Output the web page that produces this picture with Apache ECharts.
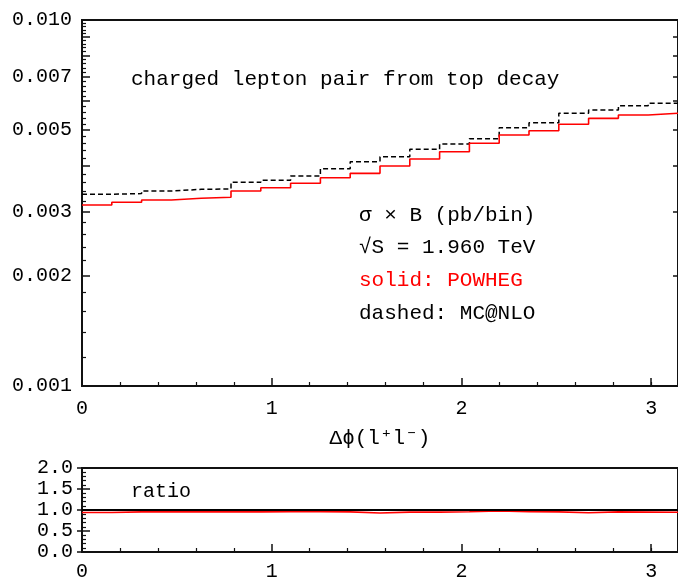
<!DOCTYPE html>
<html><head><meta charset="utf-8">
<script src="https://cdn.jsdelivr.net/npm/echarts@6/dist/echarts.min.js"></script>
<style>html,body{margin:0;padding:0;background:#fff}#c{width:678px;height:582px}</style>
</head><body><div id="c"></div>
<script>
// bin edges in delta-phi (20 bins from 0 to pi)
const binEdges = [0, 0.15708, 0.31416, 0.47124, 0.62832, 0.78540, 0.94248, 1.09956, 1.25664, 1.41372,
  1.57080, 1.72788, 1.88496, 2.04204, 2.19911, 2.35619, 2.51327, 2.67035, 2.82743, 2.98451, 3.14159];
// sigma x B (pb/bin)
const powheg = [0.003123, 0.003176, 0.003223, 0.003257, 0.003278, 0.003410, 0.003481, 0.003579, 0.003707, 0.003811,
  0.003991, 0.004172, 0.004367, 0.004604, 0.004851, 0.004984, 0.005188, 0.005387, 0.005500, 0.005560];
const mcatnlo = [0.003341, 0.003355, 0.003410, 0.003446, 0.003454, 0.003602, 0.003648, 0.003748, 0.003924, 0.004102,
  0.004233, 0.004433, 0.004584, 0.004740, 0.005079, 0.005241, 0.005560, 0.005677, 0.005833, 0.005922];
// ratio panel (POWHEG / MC@NLO)
const ratioValues = [0.94, 0.955, 0.955, 0.955, 0.955, 0.955, 0.96, 0.96, 0.955, 0.93,
  0.95, 0.95, 0.96, 0.975, 0.96, 0.955, 0.935, 0.955, 0.95, 0.945];
const ratioReference = 1.0;

const xMajorTicks = [0, 1, 2, 3];
const xMinorTicks = [0.2, 0.4, 0.6, 0.8, 1.2, 1.4, 1.6, 1.8, 2.2, 2.4, 2.6, 2.8, 3.0];
const yLabelValues = [0.001, 0.002, 0.003, 0.005, 0.007, 0.010];
const yMajorTicks = [0.001, 0.002, 0.003, 0.004, 0.005, 0.006, 0.007, 0.008, 0.009, 0.010];
const yMinorTicks = [];
for (let k = 6; k < 50; k++) { if (k % 5 !== 0) yMinorTicks.push(+(k * 0.0002).toFixed(4)); }
const ratioTicks = [0.0, 0.5, 1.0, 1.5, 2.0];

const MONO = '"Liberation Mono", "DejaVu Sans Mono", monospace';
const FRAME = '#111';

function stepData(vals) {
  return binEdges.map((x, i) => [x, vals[Math.min(i, vals.length - 1)]]);
}

const GL = 82, GW = 598;

function xAxesFor(gridIndex, labelMargin) {
  return [
    { gridIndex, type: 'value', position: 'bottom', min: 0, max: 3.14159,
      axisLine: { show: false }, splitLine: { show: false },
      axisTick: { show: true, inside: true, length: 8, customValues: xMajorTicks, lineStyle: { color: FRAME, width: 1.5 } },
      axisLabel: { show: true, customValues: xMajorTicks, margin: labelMargin, fontSize: 20, fontFamily: MONO, color: '#000' } },
    { gridIndex, type: 'value', position: 'bottom', min: 0, max: 3.14159,
      axisLine: { show: false }, splitLine: { show: false },
      axisTick: { show: true, inside: true, length: 4, customValues: xMinorTicks, lineStyle: { color: FRAME, width: 1.2 } },
      axisLabel: { show: false } }
  ];
}

const option = {
  animation: false,
  backgroundColor: '#fff',
  grid: [
    { left: GL, top: 20, width: GW, height: 366, show: true, borderColor: FRAME, borderWidth: 2, backgroundColor: 'transparent' },
    { left: GL, top: 468, width: GW, height: 86, show: true, borderColor: FRAME, borderWidth: 2, backgroundColor: 'transparent' }
  ],
  xAxis: [].concat(xAxesFor(0, 13), xAxesFor(1, 10)).map((a, i) => {
    if (i === 0) { a.name = 'Δϕ(l⁺l⁻)'; a.nameLocation = 'middle'; a.nameGap = 42;
      a.nameTextStyle = { fontSize: 21, fontFamily: MONO, color: '#000' }; }
    return a;
  }),
  yAxis: [
    { gridIndex: 0, type: 'log', logBase: 10, position: 'left', min: 0.001, max: 0.01,
      axisLine: { show: false }, splitLine: { show: false },
      axisTick: { show: true, inside: true, length: 8, customValues: yMajorTicks, lineStyle: { color: FRAME, width: 1.5 } },
      axisLabel: { show: true, customValues: yLabelValues, margin: 10, fontSize: 20, fontFamily: MONO, color: '#000',
        formatter: v => Number(v).toFixed(3) } },
    { gridIndex: 0, type: 'log', logBase: 10, position: 'left', min: 0.001, max: 0.01,
      axisLine: { show: false }, splitLine: { show: false },
      axisTick: { show: true, inside: true, length: 4, customValues: yMinorTicks, lineStyle: { color: FRAME, width: 1.2 } },
      axisLabel: { show: false } },
    { gridIndex: 0, type: 'log', logBase: 10, position: 'right', min: 0.001, max: 0.01,
      axisLine: { show: false }, splitLine: { show: false },
      axisTick: { show: true, inside: true, length: 5, customValues: yMajorTicks, lineStyle: { color: FRAME, width: 1.5 } },
      axisLabel: { show: false } },
    { gridIndex: 1, type: 'value', position: 'left', min: 0, max: 2, interval: 0.5,
      axisLine: { show: false }, splitLine: { show: false },
      axisTick: { show: true, inside: true, length: 8, lineStyle: { color: FRAME, width: 1.5 } },
      minorTick: { show: true, splitNumber: 5, length: 4, lineStyle: { color: FRAME, width: 1.2 } },
      minorSplitLine: { show: false },
      axisLabel: { show: true, customValues: ratioTicks, margin: 9, fontSize: 20, fontFamily: MONO, color: '#000',
        formatter: v => Number(v).toFixed(1) } },
    { gridIndex: 1, type: 'value', position: 'right', min: 0, max: 2, interval: 0.5,
      axisLine: { show: false }, splitLine: { show: false },
      axisTick: { show: true, inside: true, length: 5, lineStyle: { color: FRAME, width: 1.5 } },
      axisLabel: { show: false } }
  ],
  series: [
    { name: 'MC@NLO', type: 'line', xAxisIndex: 0, yAxisIndex: 0, step: 'end', showSymbol: false,
      data: stepData(mcatnlo), lineStyle: { color: '#000', width: 1.5, type: [5, 3] }, z: 3 },
    { name: 'POWHEG', type: 'line', xAxisIndex: 0, yAxisIndex: 0, step: 'end', showSymbol: false,
      data: stepData(powheg), lineStyle: { color: '#ff0000', width: 1.6 }, z: 4 },
    { name: 'ratio', type: 'line', xAxisIndex: 2, yAxisIndex: 3, step: 'end', showSymbol: false,
      data: stepData(ratioValues), lineStyle: { color: '#ff0000', width: 1.6 }, z: 4,
      markLine: { silent: true, symbol: 'none', label: { show: false },
        lineStyle: { color: '#000', width: 2, type: 'solid' }, data: [{ yAxis: ratioReference }] } }
  ],
  graphic: [
    { type: 'text', x: 131, y: 79, style: { text: 'charged lepton pair from top decay', font: '21px ' + MONO, fill: '#000', verticalAlign: 'middle' } },
    { type: 'text', x: 359, y: 215, style: { text: 'σ × B (pb/bin)', font: '21px ' + MONO, fill: '#000', verticalAlign: 'middle' } },
    { type: 'text', x: 359, y: 247, style: { text: '√S = 1.960 TeV', font: '21px ' + MONO, fill: '#000', verticalAlign: 'middle' } },
    { type: 'text', x: 359, y: 280, style: { text: 'solid: POWHEG', font: '21px ' + MONO, fill: '#ff0000', verticalAlign: 'middle' } },
    { type: 'text', x: 359, y: 313, style: { text: 'dashed: MC@NLO', font: '21px ' + MONO, fill: '#000', verticalAlign: 'middle' } },
    { type: 'text', x: 131, y: 492, style: { text: 'ratio', font: '20px ' + MONO, fill: '#000', verticalAlign: 'middle' } }
  ]
};

const chart = echarts.init(document.getElementById('c'), null, { renderer: 'canvas' });
chart.setOption(option);
</script>
</body></html>
